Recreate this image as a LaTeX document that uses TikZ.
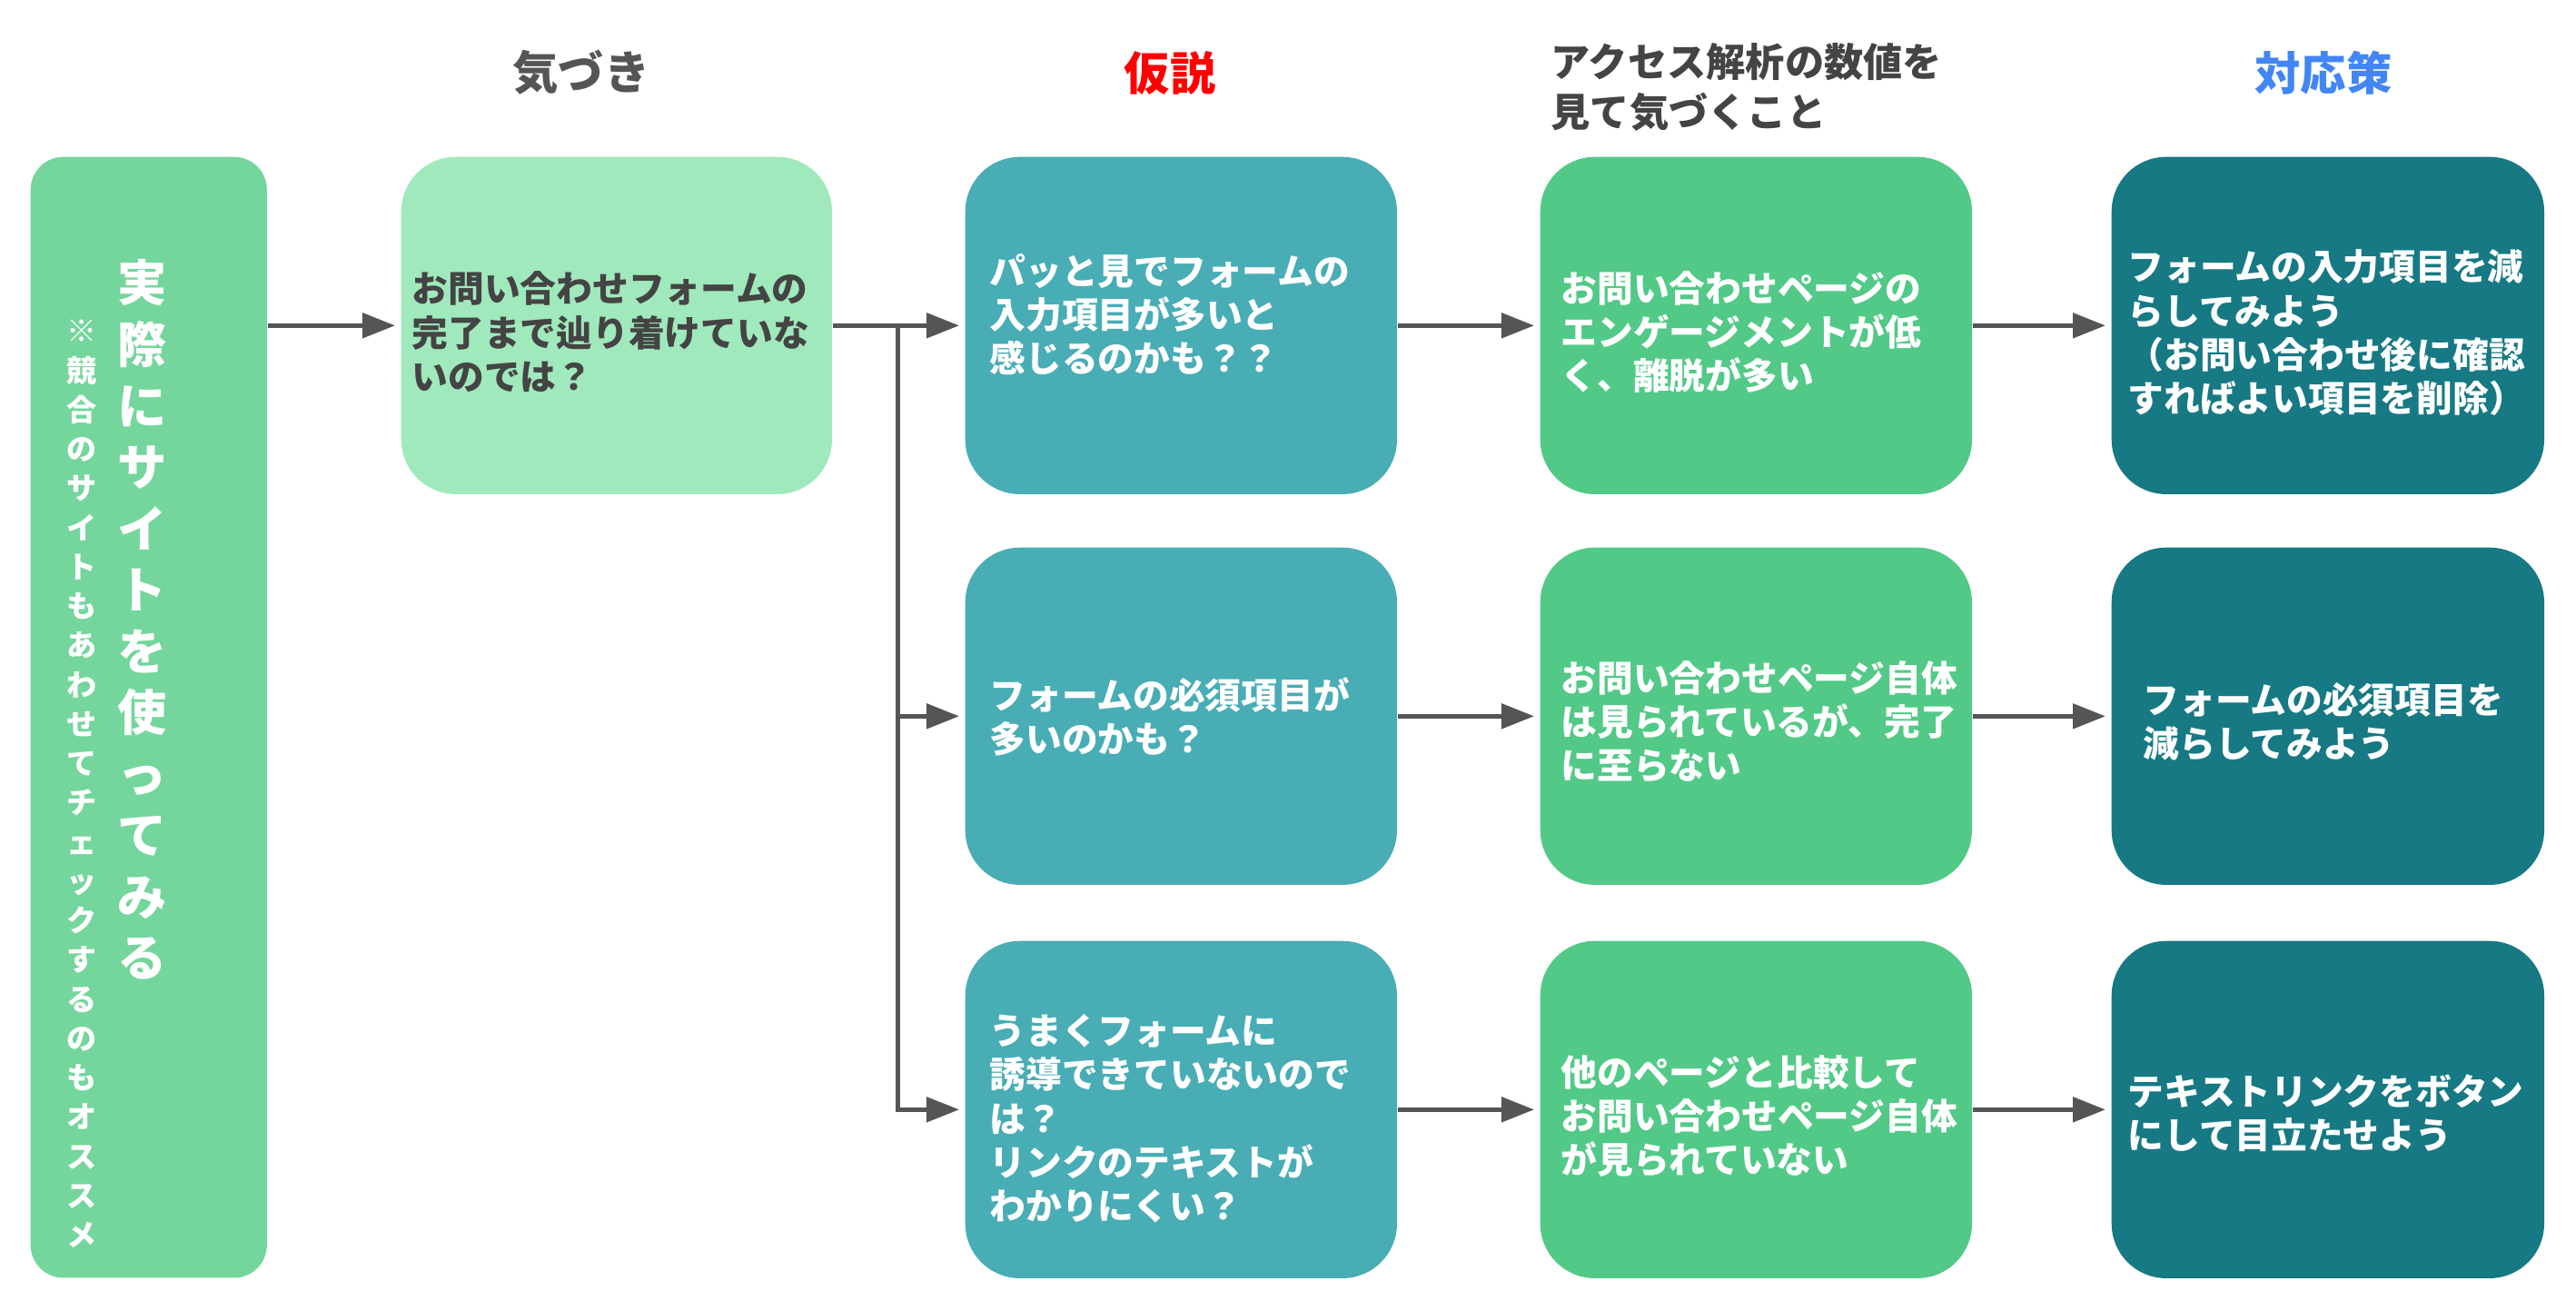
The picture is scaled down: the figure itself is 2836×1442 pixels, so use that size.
\documentclass[tikz,border=0pt]{standalone}
\usepackage{fontspec}
\setmainfont{Noto Sans CJK JP}
\usetikzlibrary{arrows.meta}
\definecolor{cL}{HTML}{74D69C}
\definecolor{cK}{HTML}{A0E9BD}
\definecolor{cH}{HTML}{48ADB5}
\definecolor{cD}{HTML}{52C987}
\definecolor{cA}{HTML}{167983}
\definecolor{cLine}{HTML}{555555}
\definecolor{cDark}{HTML}{444444}
\definecolor{cGray}{HTML}{555555}
\definecolor{cBlue}{HTML}{4286F4}
\begin{document}
\begin{tikzpicture}[x=0.01cm,y=-0.01cm,
  box/.style={rounded corners=0.6cm, inner sep=0, anchor=north west, minimum width=4.75cm, minimum height=3.71cm},
  txt/.style={font=\bfseries\fontsize{11.3pt}{13.7pt}\selectfont, align=left, inner sep=0, anchor=west},
  hdr/.style={font=\bfseries\fontsize{14.3pt}{16pt}\selectfont, inner sep=0},
  arr/.style={draw=cLine, line width=0.05cm, -{Triangle[length=0.36cm,width=0.27cm]}, shorten >=0.06cm}
]
\useasboundingbox (0,0) rectangle (2836,1442);

% headers
\node[hdr, text=cGray] (hk) at (640,80) {気づき};
\node[hdr, text=red] (hh) at (1288,80) {仮説};
\node[font=\bfseries\fontsize{12.3pt}{15.4pt}\selectfont, text=cDark, align=left, anchor=west, inner sep=0] (hd) at (1707,96) {アクセス解析の数値を\\見て気づくこと};
\node[hdr, text=cBlue] (ha) at (2558,80) {対応策};

% left box
\node[box, fill=cL, rounded corners=0.36cm, minimum width=2.60cm, minimum height=12.33cm] (L) at (33,172) {};
\node[font=\bfseries\fontsize{15.4pt}{19.2pt}\selectfont, text=white, align=center, inner sep=0] (Lm) at (157,682) {実\\際\\に\\サ\\イ\\ト\\を\\使\\っ\\て\\み\\る};
\node[font=\bfseries\fontsize{9.4pt}{12.3pt}\selectfont, text=white, align=center, inner sep=0] (Ls) at (90,863) {※\\競\\合\\の\\サ\\イ\\ト\\も\\あ\\わ\\せ\\て\\チ\\ェ\\ッ\\ク\\す\\る\\の\\も\\オ\\ス\\ス\\メ};

% boxes
\node[box, fill=cK, minimum width=4.74cm] (K) at (441,172) {};
\node[box, fill=cH] (h1) at (1062,172) {};
\node[box, fill=cH] (h2) at (1062,602) {};
\node[box, fill=cH] (h3) at (1062,1035) {};
\node[box, fill=cD] (d1) at (1695,172) {};
\node[box, fill=cD] (d2) at (1695,602) {};
\node[box, fill=cD] (d3) at (1695,1035) {};
\node[box, fill=cA, minimum width=4.76cm] (a1) at (2324,172) {};
\node[box, fill=cA, minimum width=4.76cm] (a2) at (2324,602) {};
\node[box, fill=cA, minimum width=4.76cm] (a3) at (2324,1035) {};

% texts
\node[txt, text=cDark] (Kt) at ([xshift=0.12cm,yshift=-0.07cm]K.west) {お問い合わせフォームの\\完了まで辿り着けていな\\いのでは？};
\node[txt, text=white] (h1t) at ([xshift=0.27cm,yshift=0.12cm]h1.west) {パッと見でフォームの\\入力項目が多いと\\感じるのかも？？};
\node[txt, text=white] (h2t) at ([xshift=0.27cm,yshift=-0.01cm]h2.west) {フォームの必須項目が\\多いのかも？};
\node[txt, text=white] (h3t) at ([xshift=0.27cm,yshift=-0.10cm]h3.west) {うまくフォームに\\誘導できていないので\\は？\\リンクのテキストが\\わかりにくい？};
\node[txt, text=white] (d1t) at ([xshift=0.23cm,yshift=-0.07cm]d1.west) {お問い合わせページの\\エンゲージメントが低\\く、離脱が多い};
\node[txt, text=white] (d2t) at ([xshift=0.23cm,yshift=-0.06cm]d2.west) {お問い合わせページ自体\\は見られているが、完了\\に至らない};
\node[txt, text=white] (d3t) at ([xshift=0.23cm,yshift=-0.07cm]d3.west) {他のページと比較して\\お問い合わせページ自体\\が見られていない};
\node[txt, text=white] (a1t) at ([xshift=0.18cm,yshift=-0.08cm]a1.west) {フォームの入力項目を減\\らしてみよう\\（お問い合わせ後に確認\\すればよい項目を削除）};
\node[txt, text=white] (a2t) at ([xshift=0.35cm,yshift=-0.06cm]a2.west) {フォームの必須項目を\\減らしてみよう};
\node[txt, text=white] (a3t) at ([xshift=0.18cm,yshift=-0.04cm]a3.west) {テキストリンクをボタン\\にして目立たせよう};

% connectors
\draw[arr] (L.east |- K.west) -- (K.west);
\draw[arr] (K.east) -- (h1.west);
\coordinate (br) at (988,357);
\draw[arr] (br) |- (h3.west);
\draw[arr] (br |- h2.west) -- (h2.west);
\draw[arr] (h1.east) -- (d1.west);
\draw[arr] (h2.east) -- (d2.west);
\draw[arr] (h3.east) -- (d3.west);
\draw[arr] (d1.east) -- (a1.west);
\draw[arr] (d2.east) -- (a2.west);
\draw[arr] (d3.east) -- (a3.west);
\end{tikzpicture}
\end{document}
